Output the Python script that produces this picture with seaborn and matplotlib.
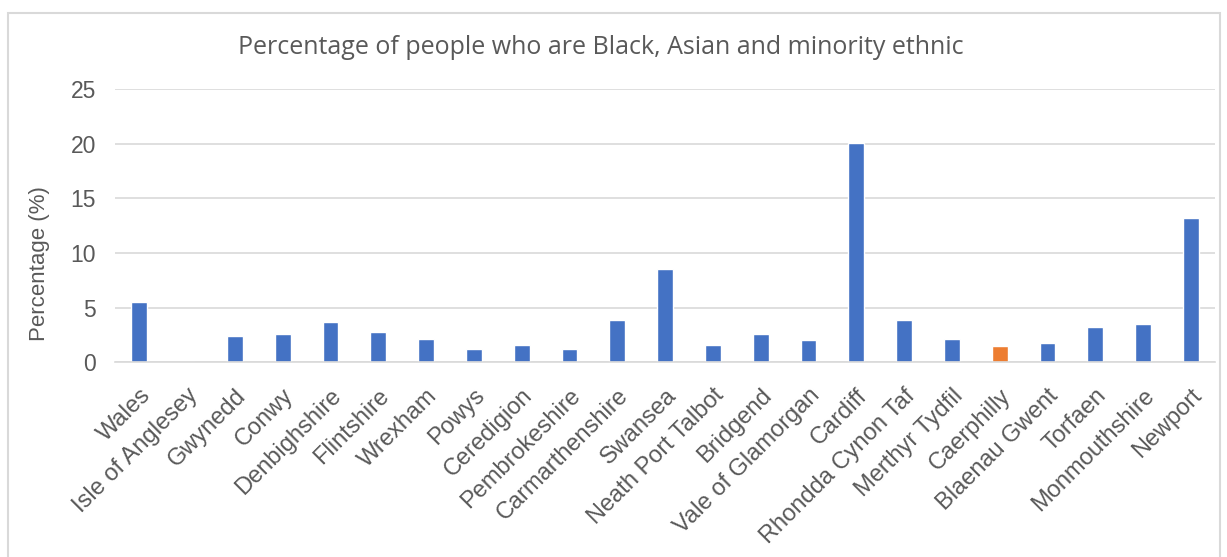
import numpy as np
import pandas as pd
import matplotlib
matplotlib.use('Agg')
import matplotlib.pyplot as plt
from matplotlib.patches import Rectangle
import seaborn as sns

# Datos
areas = ['Wales', 'Isle of Anglesey', 'Gwynedd', 'Conwy', 'Denbighshire', 'Flintshire',
         'Wrexham', 'Powys', 'Ceredigion', 'Pembrokeshire', 'Carmarthenshire', 'Swansea',
         'Neath Port Talbot', 'Bridgend', 'Vale of Glamorgan', 'Cardiff', 'Rhondda Cynon Taf',
         'Merthyr Tydfil', 'Caerphilly', 'Blaenau Gwent', 'Torfaen', 'Monmouthshire', 'Newport']
porcentajes = [5.55, 0.0, 2.4, 2.55, 3.7, 2.75, 2.1, 1.2, 1.6, 1.2, 3.9, 8.5,
               1.6, 2.55, 2.08, 20.1, 3.9, 2.1, 1.5, 1.8, 3.2, 3.5, 13.25]
resaltado = 'Caerphilly'
y_ticks = [0, 5, 10, 15, 20, 25]

df = pd.DataFrame({'area': areas, 'pct': porcentajes})
colores = {a: ('#ED7D31' if a == resaltado else '#4472C4') for a in areas}

sns.set_style('white')
plt.rcParams['font.family'] = ['Liberation Sans', 'DejaVu Sans']
gris = '#595959'

fig = plt.figure(figsize=(12.27, 5.57), dpi=100)
ax = fig.add_axes([0.094, 0.3495, 0.896, 0.4905])

sns.barplot(data=df, x='area', y='pct', hue='area', palette=colores,
            width=0.33, saturation=1, legend=False, ax=ax)

ax.set_ylim(0, 25)
ax.set_yticks(y_ticks)
ax.set_xlim(-0.5, len(areas) - 0.5)
ax.yaxis.grid(True, color='#d9d9d9', linewidth=1.2)
ax.set_axisbelow(True)
for s in ['top', 'right', 'left']:
    ax.spines[s].set_visible(False)
ax.spines['bottom'].set_color('#d9d9d9')
ax.spines['bottom'].set_linewidth(1.2)

ax.tick_params(axis='y', labelsize=16.5, colors=gris, length=0, pad=14)
ax.tick_params(axis='x', labelsize=17, colors=gris, length=0, pad=16)
plt.setp(ax.get_xticklabels(), rotation=45, ha='right', rotation_mode='anchor')

ax.set_xlabel('')
ax.set_ylabel('Percentage (%)', fontsize=16, color=gris)
ax.yaxis.set_label_coords(-0.059, 0.36)
fig.text(0.49, 0.915, 'Percentage of people who are Black, Asian and minority ethnic',
         ha='center', va='center', fontsize=18, color=gris,
         family=['Open Sans', 'DejaVu Sans'])

# Marco del gráfico
fig.patches.append(Rectangle((0.0065, -0.05), 0.988, 1.026, transform=fig.transFigure,
                             fill=False, edgecolor='#d9d9d9', linewidth=1.5))

fig.savefig('out.png', dpi=100)
